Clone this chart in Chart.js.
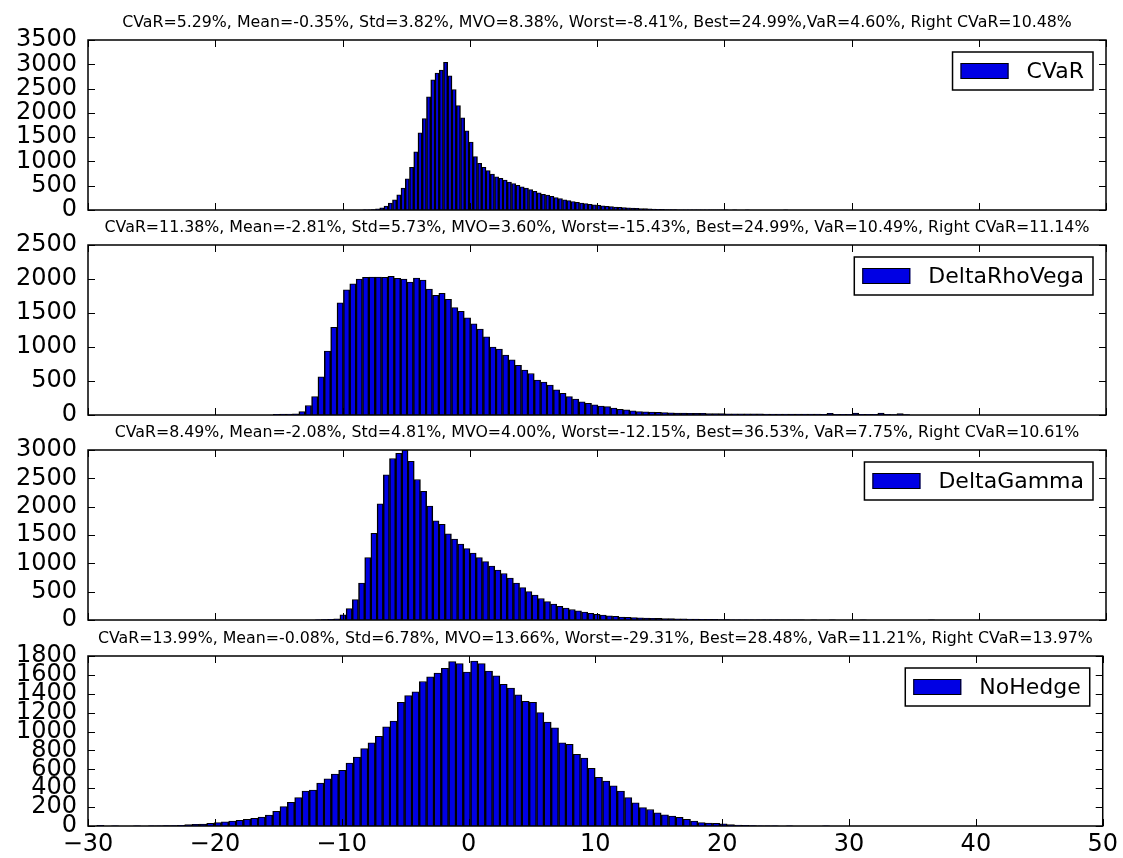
<!DOCTYPE html>
<html>
<head>
<meta charset="utf-8">
<script src="https://cdn.jsdelivr.net/npm/chart.js@4.4.1/dist/chart.umd.min.js"></script>
<style>
  body { margin: 0; background: #fff; }
  #wrap { position: relative; width: 1123px; height: 858px; overflow: hidden; background: #fff; }
  #wrap canvas { position: absolute; left: 0; }
</style>
</head>
<body>
<div id="wrap"></div>
<script>
// x axis (returns, %) shared by all four panels
var xTicks = [-30, -20, -10, 0, 10, 20, 30, 40, 50];

var names = ["CVaR", "DeltaRhoVega", "DeltaGamma", "NoHedge"];

var titles = [
  "CVaR=5.29%, Mean=-0.35%, Std=3.82%, MVO=8.38%, Worst=-8.41%, Best=24.99%,VaR=4.60%, Right CVaR=10.48%",
  "CVaR=11.38%, Mean=-2.81%, Std=5.73%, MVO=3.60%, Worst=-15.43%, Best=24.99%, VaR=10.49%, Right CVaR=11.14%",
  "CVaR=8.49%, Mean=-2.08%, Std=4.81%, MVO=4.00%, Worst=-12.15%, Best=36.53%, VaR=7.75%, Right CVaR=10.61%",
  "CVaR=13.99%, Mean=-0.08%, Std=6.78%, MVO=13.66%, Worst=-29.31%, Best=28.48%, VaR=11.21%, Right CVaR=13.97%"
];

var yMax = [3500, 2500, 3000, 1800];
var yStep = [500, 500, 500, 200];

// histogram bins: first edge and bin width, then counts
var cvarStart = -8.41, cvarWidth = 0.334;
var cvarCounts = [
  3, 5, 10, 25, 45, 82, 140, 210, 310, 450,
  640, 880, 1200, 1590, 1880, 2330, 2680, 2820, 2880, 3040,
  2760, 2480, 2150, 1900, 1630, 1400, 1100, 960, 880, 810,
  740, 685, 650, 615, 575, 545, 510, 478, 450, 420,
  385, 355, 325, 305, 280, 255, 235, 210, 192, 175,
  158, 142, 130, 118, 107, 96, 87, 78, 68, 60,
  53, 48, 44, 40, 35, 31, 28, 25, 20, 15,
  12, 10, 8, 7, 6, 5, 4, 3, 3, 2,
  2, 2, 1, 1, 1, 1, 0, 1, 0, 0,
  1, 0, 0, 0, 0, 0, 0, 0, 0, 1
];

var drvStart = -15.43, drvWidth = 0.5;
var drvCounts = [
  10, 12, 15, 18, 50, 140, 270, 560, 940, 1290,
  1650, 1840, 1930, 2000, 2025, 2030, 2030, 2025, 2040, 2010,
  2000, 1955, 2015, 1985, 1850, 1760, 1790, 1700, 1580, 1525,
  1430, 1340, 1265, 1150, 1000, 970, 880, 810, 730, 660,
  610, 515, 485, 440, 370, 320, 270, 235, 195, 170,
  148, 133, 122, 100, 85, 75, 60, 50, 45, 42,
  38, 34, 31, 30, 28, 26, 25, 24, 22, 21,
  20, 19, 18, 18, 17, 16, 16, 15, 15, 14,
  14, 13, 13, 12, 12, 12, 11, 25, 11, 10,
  10, 28, 10, 9, 9, 30, 9, 8, 20, 8
];

var dgStart = -12.15, dgWidth = 0.4868;
var dgCounts = [
  5, 8, 12, 20, 90, 200, 360, 650, 1100, 1530,
  2050, 2560, 2850, 2940, 3000, 2800, 2480, 2270, 2010, 1750,
  1690, 1520, 1430, 1340, 1260, 1180, 1100, 1030, 950, 880,
  820, 740, 650, 570, 500, 440, 380, 325, 280, 240,
  210, 185, 160, 138, 118, 100, 85, 74, 63, 53,
  48, 43, 38, 34, 31, 28, 26, 23, 21, 19,
  17, 15, 13, 12, 10, 8, 7, 5, 4, 4,
  3, 3, 2, 2, 2, 1, 1, 1, 1, 0,
  1, 0, 0, 1, 0, 0, 0, 0, 1, 0,
  0, 0, 0, 0, 0, 0, 0, 0, 0, 1
];

var nhStart = -29.31, nhWidth = 0.5779;
var nhCounts = [
  6, 0, 2, 0, 0, 2, 0, 3, 2, 4,
  5, 8, 14, 18, 20, 28, 35, 45, 52, 60,
  70, 80, 95, 115, 155, 205, 250, 300, 370, 380,
  455, 500, 550, 590, 665, 730, 820, 880, 950, 1050,
  1110, 1310, 1380, 1420, 1530, 1580, 1620, 1670, 1740, 1720,
  1630, 1745, 1720, 1640, 1590, 1500, 1460, 1390, 1320, 1310,
  1200, 1100, 1040, 880, 865, 760, 720, 610, 515, 475,
  425, 370, 300, 245, 195, 175, 140, 118, 105, 92,
  70, 52, 36, 30, 28, 24, 15, 10, 6, 4,
  2, 1, 1, 0, 1, 0, 0, 0, 0, 1
];

var starts = [cvarStart, drvStart, dgStart, nhStart];
var widths = [cvarWidth, drvWidth, dgWidth, nhWidth];
var counts = [cvarCounts, drvCounts, dgCounts, nhCounts];

// layout of the four stacked panels (page pixels)
var plotTops = [40, 245, 450, 656];
var plotHeight = 170;
var titleBox = 29;     // 18 line + 3 + 8 padding
var axisWidth = 88;
var yPad = 11;         // gap between y labels and the frame
var xPad = 5;
var font = "DejaVu Sans";
var barBlue = "#0000e4";

// inward ticks on all four sides plus the black frame, like matplotlib classic
var frame = {
  id: "frame",
  afterDatasetsDraw: function (chart) {
    var ctx = chart.ctx, a = chart.chartArea;
    var xs = chart.scales.x, ys = chart.scales.y;
    ctx.save();
    ctx.strokeStyle = "#000";
    ctx.lineWidth = 1;
    ctx.beginPath();
    xTicks.forEach(function (v) {
      var px = Math.round(xs.getPixelForValue(v)) + 0.5;
      ctx.moveTo(px, a.bottom);
      ctx.lineTo(px, a.bottom - 7);
      ctx.moveTo(px, a.top);
      ctx.lineTo(px, a.top + 7);
    });
    ys.ticks.forEach(function (t) {
      var py = Math.round(ys.getPixelForValue(t.value)) + 0.5;
      ctx.moveTo(a.left, py);
      ctx.lineTo(a.left + 7, py);
      ctx.moveTo(a.right, py);
      ctx.lineTo(a.right - 7, py);
    });
    ctx.stroke();
    ctx.lineWidth = 1.5;
    ctx.strokeRect(a.left, a.top, a.right - a.left, a.bottom - a.top);
    ctx.restore();
  }
};

// legend in a bordered box, upper right corner of the plot
var boxLegend = {
  id: "boxLegend",
  afterDraw: function (chart) {
    var ctx = chart.ctx, a = chart.chartArea;
    var ds = chart.data.datasets[0];
    ctx.save();
    ctx.font = "22px '" + font + "'";
    var tw = ctx.measureText(ds.label).width;
    var w = 8 + 48 + 18 + tw + 9, h = 38;
    var x = a.right - 13 - w, y = a.top + 12;
    ctx.fillStyle = "#fff";
    ctx.fillRect(x, y, w, h);
    ctx.strokeStyle = "#000";
    ctx.lineWidth = 1.5;
    ctx.strokeRect(x, y, w, h);
    ctx.fillStyle = ds.backgroundColor;
    ctx.fillRect(x + 8, y + 11, 48, 16);
    ctx.lineWidth = 1;
    ctx.strokeRect(x + 8.5, y + 11.5, 47, 15);
    ctx.fillStyle = "#000";
    ctx.textBaseline = "middle";
    ctx.fillText(ds.label, x + 8 + 48 + 18, y + h / 2 + 1);
    ctx.restore();
  }
};

var wrap = document.getElementById("wrap");

names.forEach(function (name, i) {
  var last = i === names.length - 1;
  // below the frame: y label half height + padding, or the x axis on the last panel
  var below = last ? 28 + 2 * xPad : 14 + yPad;
  var canvas = document.createElement("canvas");
  canvas.width = 1123;
  canvas.height = titleBox + plotHeight + below;
  canvas.style.top = (plotTops[i] - titleBox) + "px";
  wrap.appendChild(canvas);

  var points = counts[i].map(function (c, k) {
    return { x: starts[i] + (k + 0.5) * widths[i], y: c };
  });

  new Chart(canvas, {
    type: "bar",
    data: {
      datasets: [{
        label: name,
        data: points,
        backgroundColor: barBlue,
        borderColor: "#000",
        borderWidth: { top: 1, left: 1.5, right: 1.5, bottom: 0 },
        borderSkipped: false,
        barPercentage: 1,
        categoryPercentage: 1
      }]
    },
    options: {
      responsive: false,
      animation: false,
      layout: { padding: { top: 0, right: 17, bottom: last ? 0 : below, left: 0 } },
      plugins: {
        legend: { display: false },
        tooltip: { enabled: false },
        title: {
          display: true,
          text: titles[i],
          fullSize: false,
          color: "#000",
          font: { family: font, size: 15.8, weight: "normal", lineHeight: "18px" },
          padding: { top: 3, bottom: 8 }
        }
      },
      scales: {
        x: {
          type: "linear",
          min: -30,
          max: 50,
          offset: false,
          display: last,
          grid: { display: false, drawTicks: false, offset: false },
          border: { display: false },
          ticks: {
            stepSize: 10,
            maxRotation: 0,
            color: "#000",
            padding: xPad,
            font: { family: font, size: 24, lineHeight: "28px" },
            callback: function (v) { return v < 0 ? "\u2212" + Math.abs(v) : String(v); }
          }
        },
        y: {
          min: 0,
          max: yMax[i],
          grid: { display: false, drawTicks: false },
          border: { display: false },
          ticks: {
            stepSize: yStep[i],
            autoSkip: false,
            color: "#000",
            padding: yPad,
            font: { family: font, size: 24, lineHeight: "28px" },
            callback: function (v) { return String(v); }
          },
          afterFit: function (scale) { scale.width = axisWidth; }
        }
      }
    },
    plugins: [frame, boxLegend]
  });
});
</script>
</body>
</html>
